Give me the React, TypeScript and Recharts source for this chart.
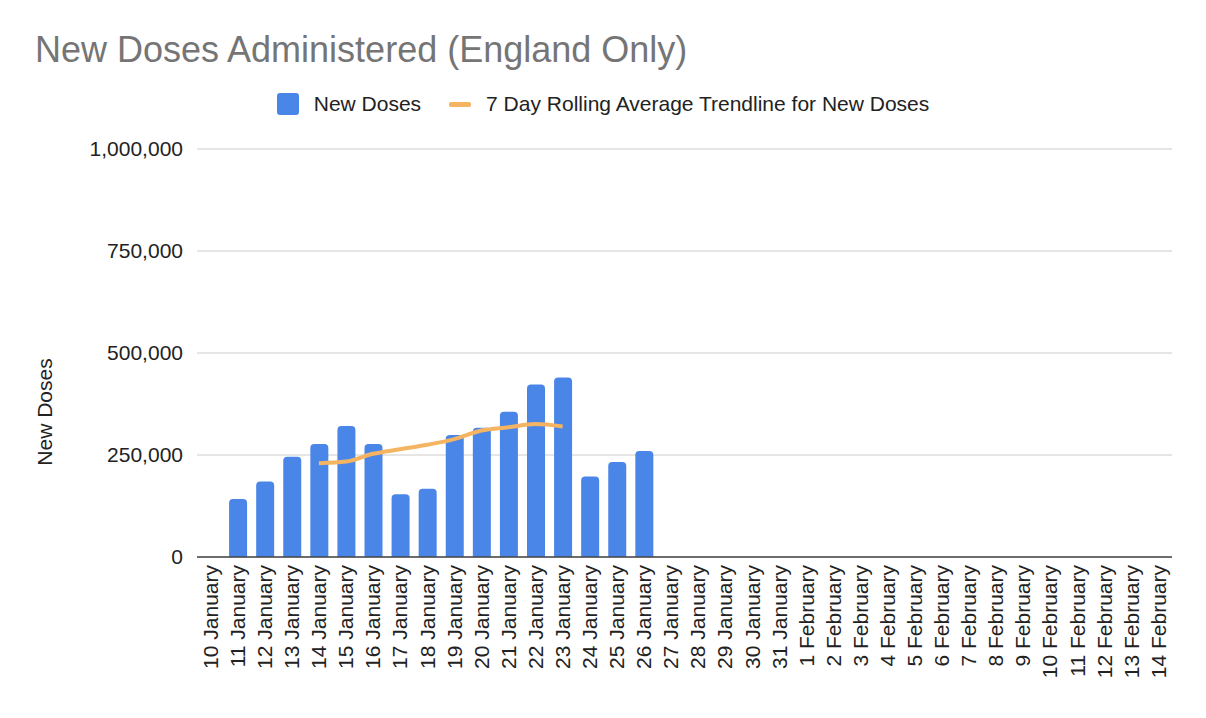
import React from "react";
import {
  ComposedChart,
  Bar,
  Line,
  XAxis,
  YAxis,
  CartesianGrid,
  Label,
} from "recharts";

const dates = [
  "10 January", "11 January", "12 January", "13 January", "14 January", "15 January",
  "16 January", "17 January", "18 January", "19 January", "20 January", "21 January",
  "22 January", "23 January", "24 January", "25 January", "26 January", "27 January",
  "28 January", "29 January", "30 January", "31 January", "1 February", "2 February",
  "3 February", "4 February", "5 February", "6 February", "7 February", "8 February",
  "9 February", "10 February", "11 February", "12 February", "13 February", "14 February",
];

// daily doses, 11 Jan .. 26 Jan (10 Jan and later dates empty)
const newDoses: (number | null)[] = [
  null, 142000, 185000, 246000, 277000, 321000, 277000, 154000, 167000, 299000,
  317000, 356000, 423000, 440000, 197000, 233000, 260000,
];

// 7 day rolling average, 14 Jan .. 23 Jan
const rollingAvg: (number | null)[] = [
  null, null, null, null, 230000, 234000, 253000, 264000, 275000, 289000,
  310000, 318000, 326000, 320000,
];

const yTicks = [0, 250000, 500000, 750000, 1000000];

const BLUE = "#4a86e8";
const ORANGE = "#f5b461";
const FONT = "'Liberation Sans', Arial, sans-serif";
const FS = 21;

const data = dates.map((date, i) => ({
  date,
  doses: newDoses[i] ?? null,
  avg: rollingAvg[i] ?? null,
}));

function DateTick(props: any) {
  const { x, y, payload } = props;
  const ty = y + 8;
  return (
    <text
      x={x}
      y={ty}
      dy="0.35em"
      transform={`rotate(-90, ${x}, ${ty})`}
      textAnchor="end"
      fontSize={FS}
      fontFamily={FONT}
      fill="#222"
    >
      {payload.value}
    </text>
  );
}

export default function App() {
  return (
    <div
      style={{
        position: "absolute",
        left: 0,
        top: 0,
        width: 1206,
        height: 718,
        background: "#fff",
        fontFamily: FONT,
      }}
    >
      <div
        style={{
          position: "absolute",
          left: 35,
          top: 32,
          fontSize: 36,
          lineHeight: "36px",
          color: "#757575",
          whiteSpace: "nowrap",
        }}
      >
        New Doses Administered (England Only)
      </div>

      <div
        style={{
          position: "absolute",
          left: 0,
          top: 93,
          width: 1206,
          display: "flex",
          justifyContent: "center",
          alignItems: "center",
          fontSize: FS,
          color: "#222",
          height: 22,
        }}
      >
        <span style={{ width: 22, height: 22, background: BLUE, borderRadius: 3, marginRight: 15 }} />
        <span style={{ marginRight: 28 }}>New Doses</span>
        <span style={{ width: 22, height: 5, background: ORANGE, borderRadius: 2, marginRight: 15 }} />
        <span>7 Day Rolling Average Trendline for New Doses</span>
      </div>

      <ComposedChart
        width={1206}
        height={718}
        data={data}
        margin={{ top: 149, right: 34, bottom: 11, left: 0 }}
      >
        <CartesianGrid vertical={false} stroke="#cccccc" />
        <XAxis
          dataKey="date"
          interval={0}
          height={150}
          tickLine={false}
          tickSize={0}
          tickMargin={0}
          axisLine={{ stroke: "#444", strokeWidth: 1.5 }}
          tick={<DateTick />}
        />
        <YAxis
          width={197}
          domain={[0, 1000000]}
          ticks={yTicks}
          axisLine={false}
          tickLine={false}
          tickSize={0}
          tickMargin={14}
          tick={{ fontSize: FS, fill: "#222", fontFamily: FONT }}
          tickFormatter={(v: number) => v.toLocaleString("en-US")}
        >
          <Label
            content={({ viewBox }: any) => {
              const cx = 45;
              const cy = viewBox.y + 263;
              return (
                <text
                  x={cx}
                  y={cy}
                  transform={`rotate(-90, ${cx}, ${cy})`}
                  textAnchor="middle"
                  dy="0.35em"
                  fontSize={FS}
                  fontFamily={FONT}
                  fill="#222"
                >
                  New Doses
                </text>
              );
            }}
          />
        </YAxis>
        <Bar
          dataKey="doses"
          fill={BLUE}
          barSize={18}
          radius={[4, 4, 0, 0]}
          isAnimationActive={false}
        />
        <Line
          dataKey="avg"
          type="monotone"
          stroke={ORANGE}
          strokeWidth={4}
          dot={false}
          activeDot={false}
          isAnimationActive={false}
        />
      </ComposedChart>
    </div>
  );
}
